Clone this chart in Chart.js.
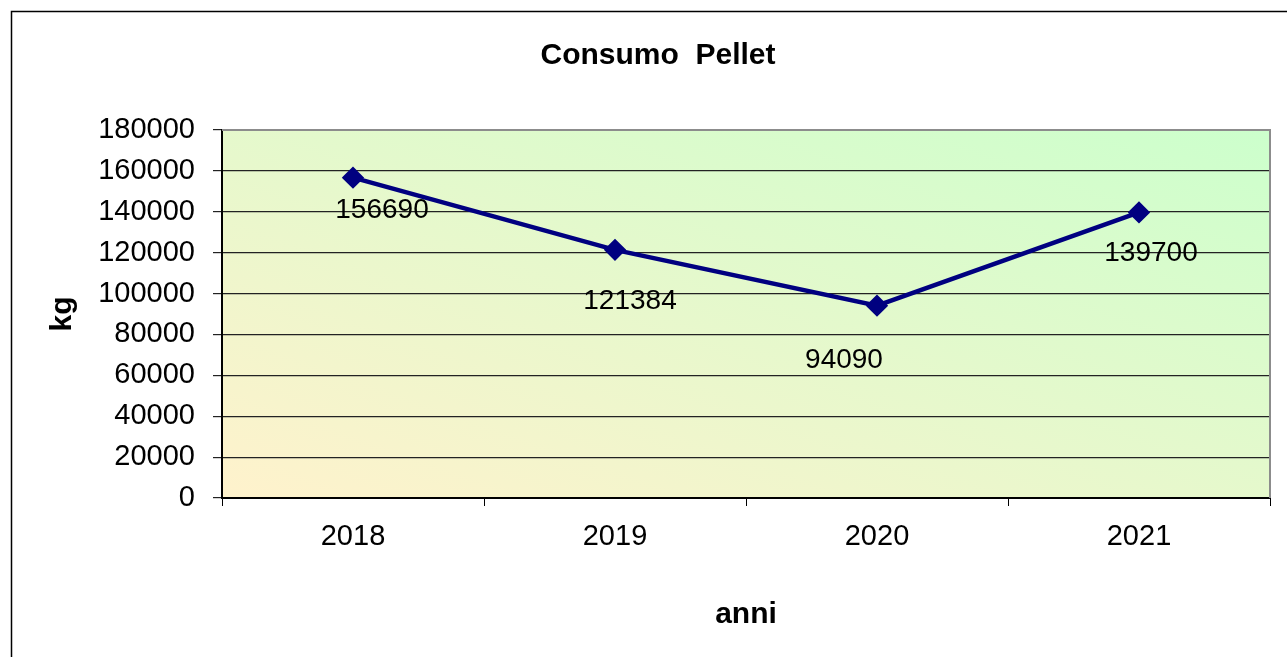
<!DOCTYPE html>
<html>
<head>
<meta charset="utf-8">
<script src="https://cdn.jsdelivr.net/npm/chart.js@4.4.1/dist/chart.umd.min.js"></script>
<style>
  html, body { margin: 0; padding: 0; background: #fff; }
  #wrap { width: 1287px; height: 657px; position: relative; }
</style>
</head>
<body>
<div id="wrap"><canvas id="chart"></canvas></div>
<script>
const years = ["2018", "2019", "2020", "2021"];
const consumo = [156690, 121384, 94090, 139700];
const yTicks = [0, 20000, 40000, 60000, 80000, 100000, 120000, 140000, 160000, 180000];

// label nudges, like excel placed them
const labelOffsets = [[29, 33], [15, 51], [-33, 55], [12, 41]];

const FONT = "'Liberation Sans', Arial, sans-serif";

const framePlugin = {
  id: 'frame',
  beforeDraw(chart) {
    const ctx = chart.ctx;
    const a = chart.chartArea;
    ctx.save();
    // outer frame
    ctx.strokeStyle = '#000';
    ctx.lineWidth = 1.5;
    ctx.beginPath();
    ctx.moveTo(11.5, 700);
    ctx.lineTo(11.5, 11.5);
    ctx.lineTo(1300, 11.5);
    ctx.stroke();
    // plot background, diagonal gradient (corners TL and BR about equal)
    const w = a.right - a.left, h = a.bottom - a.top;
    const cx = a.left + w / 2, cy = a.top + h / 2;
    const len = Math.hypot(w, h);
    const nx = h / len, ny = -w / len;
    const d = Math.abs((-w / 2) * nx + (h / 2) * ny);
    const g = ctx.createLinearGradient(cx - nx * d, cy - ny * d, cx + nx * d, cy + ny * d);
    g.addColorStop(0, '#fff2cc');
    g.addColorStop(1, '#ccffcc');
    ctx.fillStyle = g;
    ctx.fillRect(a.left, a.top, w, h);
    // title
    ctx.fillStyle = '#000';
    ctx.font = 'bold 30px ' + FONT;
    ctx.textAlign = 'center';
    ctx.textBaseline = 'middle';
    ctx.fillText('Consumo  Pellet', 658, 56);
    ctx.restore();
  },
  afterDatasetsDraw(chart) {
    const ctx = chart.ctx;
    const a = chart.chartArea;
    ctx.save();
    // gray top/right border
    ctx.strokeStyle = '#8c8c8c';
    ctx.lineWidth = 2;
    ctx.beginPath();
    ctx.moveTo(a.left, a.top);
    ctx.lineTo(a.right, a.top);
    ctx.lineTo(a.right, a.bottom);
    ctx.stroke();
    // data labels
    const meta = chart.getDatasetMeta(0);
    ctx.fillStyle = '#000';
    ctx.font = '28px ' + FONT;
    ctx.textAlign = 'center';
    ctx.textBaseline = 'middle';
    meta.data.forEach((pt, i) => {
      const off = labelOffsets[i];
      ctx.fillText(String(consumo[i]), pt.x + off[0], pt.y + off[1]);
    });
    ctx.restore();
  }
};

new Chart(document.getElementById('chart'), {
  type: 'line',
  data: {
    labels: years,
    datasets: [{
      data: consumo,
      borderColor: '#000080',
      backgroundColor: '#000080',
      borderWidth: 4.5,
      pointStyle: 'rectRot',
      pointRadius: 8,
      pointHoverRadius: 8,
      tension: 0,
      clip: false
    }]
  },
  options: {
    responsive: true,
    maintainAspectRatio: false,
    animation: false,
    layout: { padding: { top: 130, right: 17, left: 0, bottom: 0 } },
    plugins: {
      legend: { display: false },
      tooltip: { enabled: false }
    },
    scales: {
      x: {
        offset: true,
        grid: {
          offset: true,
          drawOnChartArea: false,
          drawTicks: true,
          tickLength: 8,
          color: '#000'
        },
        border: { color: '#000', width: 2 },
        ticks: {
          color: '#000',
          padding: 14,
          font: { family: FONT, size: 29 }
        },
        title: {
          display: true,
          text: 'anni',
          color: '#000',
          font: { family: FONT, size: 30, weight: 'bold' },
          padding: { top: 0, bottom: 24 }
        },
        afterFit(scale) { scale.height = 159; }
      },
      y: {
        min: 0,
        max: 180000,
        afterBuildTicks(scale) { scale.ticks = yTicks.map(v => ({ value: v })); },
        grid: {
          color: '#222',
          lineWidth: 1.2,
          drawTicks: true,
          tickLength: 9
        },
        border: { color: '#000', width: 2 },
        ticks: {
          color: '#000',
          padding: 18,
          font: { family: FONT, size: 29 },
          callback: (v) => String(v)
        },
        title: {
          display: true,
          text: 'kg',
          color: '#000',
          font: { family: FONT, size: 30, weight: 'bold' },
          padding: { top: 45, bottom: 0 }
        },
        afterFit(scale) { scale.width = 222; }
      }
    }
  },
  plugins: [framePlugin]
});
</script>
</body>
</html>
